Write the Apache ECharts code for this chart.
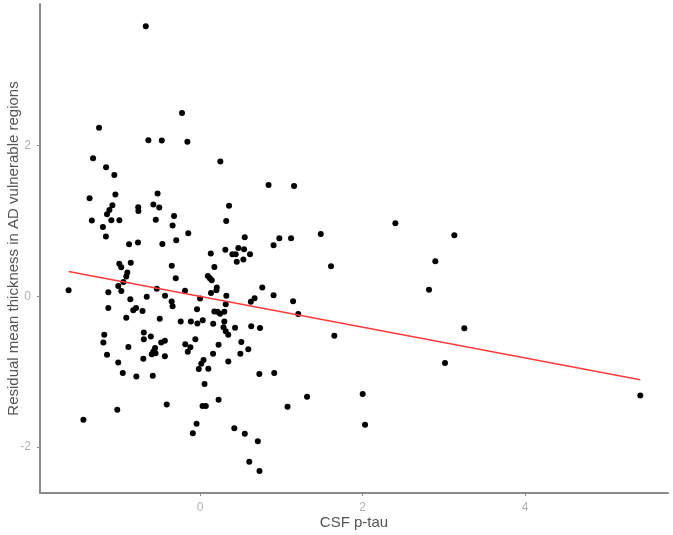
<!DOCTYPE html>
<html>
<head>
<meta charset="utf-8">
<script src="https://cdn.jsdelivr.net/npm/echarts@6/dist/echarts.min.js"></script>
<style>
  html, body { margin: 0; padding: 0; background: #fff; }
  #chart { width: 673px; height: 535px; }
</style>
</head>
<body>
<div id="chart"></div>
<script>
// CSF p-tau (x) per subject
const ptau = [
  -1.618, -1.436, -1.360, -1.332, -1.317, -1.243, -1.196, -1.179, -1.190, -1.157,
  -1.159, -1.145, -1.129, -1.129, -1.116, -1.145, -1.079, -1.092, -1.055, -1.042,
  -1.019, -1.007, -1.007, -0.993, -0.994, -0.970, -0.969, -0.951, -0.944, -0.908,
  -0.895, -0.908, -0.882, -0.874, -0.858, -0.853, -0.822, -0.788, -0.784, -0.764,
  -0.761, -0.759, -0.708, -0.698, -0.692, -0.692, -0.668, -0.656, -0.636, -0.606,
  -0.582, -0.575, -0.575, -0.554, -0.548, -0.594, -0.545, -0.532, -0.523, -0.502,
  -0.496, -0.471, -0.478, -0.433, -0.433, -0.464, -0.431, -0.410, -0.348, -0.350,
  -0.338, -0.338, -0.320, -0.293, -0.299, -0.238, -0.222, -0.185, -0.182, -0.145,
  -0.156, -0.151, -0.119, -0.113, -0.089, -0.058, -0.043, -0.037, -0.033, -0.016,
  0.000, 0.015, 0.033, 0.043, 0.031, 0.071, 0.055, 0.096, 0.102, 0.121,
  0.144, 0.132, 0.135, 0.162, 0.160, 0.176, 0.176, 0.206, 0.201, 0.215,
  0.228, 0.228, 0.250, 0.246, 0.289, 0.299, 0.299, 0.311, 0.357, 0.322,
  0.324, 0.316, 0.316, 0.347, 0.348, 0.398, 0.439, 0.452, 0.431, 0.422,
  0.471, 0.496, 0.508, 0.533, 0.542, 0.550, 0.551, 0.594, 0.606, 0.615,
  0.625, 0.630, 0.671, 0.711, 0.730, 0.732, 0.738, 0.766, 0.843, 0.905,
  0.905, 0.913, 0.976, 1.077, 1.120, 1.145, 1.157, 1.209, 1.317, 1.486,
  1.612, 1.653, 2.002, 2.031, 2.404, 2.818, 2.896, 3.015, 3.130, 3.253,
  5.419
];

// residual mean thickness (y) per subject
const thickness = [
  0.080, -1.638, 1.302, 1.008, 1.834, 2.237, 0.922, -0.511, -0.613, 1.714,
  0.793, -0.776, 0.056, -0.155, 1.147, 1.090, 1.210, 1.011, 1.611, 1.353,
  -1.505, -0.878, 0.137, 1.011, 0.431, 0.385, 0.070, -1.019, 0.190, 0.263,
  0.316, -0.285, -0.672, 0.692, -0.040, 0.447, -0.186, -0.155, -1.065, 0.714,
  1.184, 1.134, -0.195, -0.829, -0.481, -0.570, 3.584, -0.007, 2.073, -0.532,
  -1.054, 1.220, -0.732, -0.687, -0.756, -0.767, 1.015, 0.102, 1.366, 1.180,
  -0.296, 2.069, -0.613, -0.588, -0.796, 0.694, 0.007, -1.435, 0.407, -0.068,
  -0.133, 0.939, 1.065, 0.745, 0.239, -0.334, 2.434, 0.073, -0.637, 0.839,
  2.053, -0.736, -0.674, -0.334, -1.817, -0.568, -1.691, -0.170, -0.362, -0.964,
  -0.027, -0.893, -0.318, -0.845, -1.456, -1.456, -1.163, 0.269, -0.962, 0.241,
  0.212, 0.570, 0.044, -0.365, -0.763, 0.391, -0.202, 0.117, 0.080, -0.203,
  -0.643, -1.373, 1.790, -0.232, -0.411, -0.334, -0.206, 0.617, 1.204, 0.999,
  0.007, -0.106, -0.464, -0.511, -0.865, 0.560, 0.560, 0.458, -0.418, -1.751,
  0.643, -0.763, -0.607, 0.488, 0.626, 0.783, -1.824, -0.703, -2.195, 0.560,
  -0.073, -0.398, -0.024, -1.923, -1.032, -2.317, -0.420, 0.117, 1.479, 0.679,
  0.013, -1.019, 0.772, -1.466, 0.772, -0.064, 1.466, -0.235, -1.333, 0.829,
  0.401, -0.524, -1.297, -1.704, 0.971, 0.086, 0.467, -0.886, 0.812, -0.422,
  -1.316
];

// fitted regression line, read at both ends of the data range
const fitX = [-1.618, 5.419];
const fitY = [0.329, -1.107];

const xTicks = [0, 2, 4];
const yTicks = [-2, 0, 2];

const points = ptau.map((x, i) => [x, thickness[i]]);
const fitLine = fitX.map((x, i) => [x, fitY[i]]);

const axisGrey = '#8a8a8a';
const labelGrey = '#b0b0b0';
const titleGrey = '#555';
const font = '"Liberation Sans", Arial, sans-serif';

const chart = echarts.init(document.getElementById('chart'), null, { renderer: 'canvas' });

chart.setOption({
  animation: false,
  backgroundColor: '#fff',
  grid: { left: 40, right: 5, top: 4, bottom: 42, containLabel: false, outerBoundsMode: 'none' },
  xAxis: {
    type: 'value',
    min: -1.97,
    max: 5.76,
    name: 'CSF p-tau',
    nameLocation: 'middle',
    nameGap: 22,
    nameMoveOverlap: false,
    nameTextStyle: { color: titleGrey, fontSize: 15, fontFamily: font },
    axisLine: { show: true, onZero: false, lineStyle: { color: axisGrey, width: 2 } },
    axisTick: { show: true, customValues: xTicks, length: 3, lineStyle: { color: axisGrey } },
    axisLabel: { customValues: xTicks, margin: 9, color: labelGrey, fontSize: 12, fontFamily: font },
    splitLine: { show: false }
  },
  yAxis: {
    type: 'value',
    min: -2.61,
    max: 3.88,
    name: 'Residual mean thickness in AD vulnerable regions',
    nameLocation: 'middle',
    nameRotate: 90,
    nameGap: 19,
    nameMoveOverlap: false,
    nameTextStyle: { color: titleGrey, fontSize: 15, fontFamily: font },
    axisLine: { show: true, onZero: false, lineStyle: { color: axisGrey, width: 2 } },
    axisTick: { show: true, customValues: yTicks, length: 3, lineStyle: { color: axisGrey } },
    axisLabel: { customValues: yTicks, margin: 9, color: labelGrey, fontSize: 12, fontFamily: font },
    splitLine: { show: false }
  },
  series: [
    {
      type: 'scatter',
      data: points,
      symbol: 'circle',
      symbolSize: 6,
      itemStyle: { color: '#000', opacity: 1 },
      z: 2
    },
    {
      type: 'line',
      data: fitLine,
      symbol: 'none',
      lineStyle: { color: '#ff3b3b', width: 1.5 },
      z: 3
    }
  ]
});

window.addEventListener('resize', () => {
  chart.resize();
});
</script>
</body>
</html>
